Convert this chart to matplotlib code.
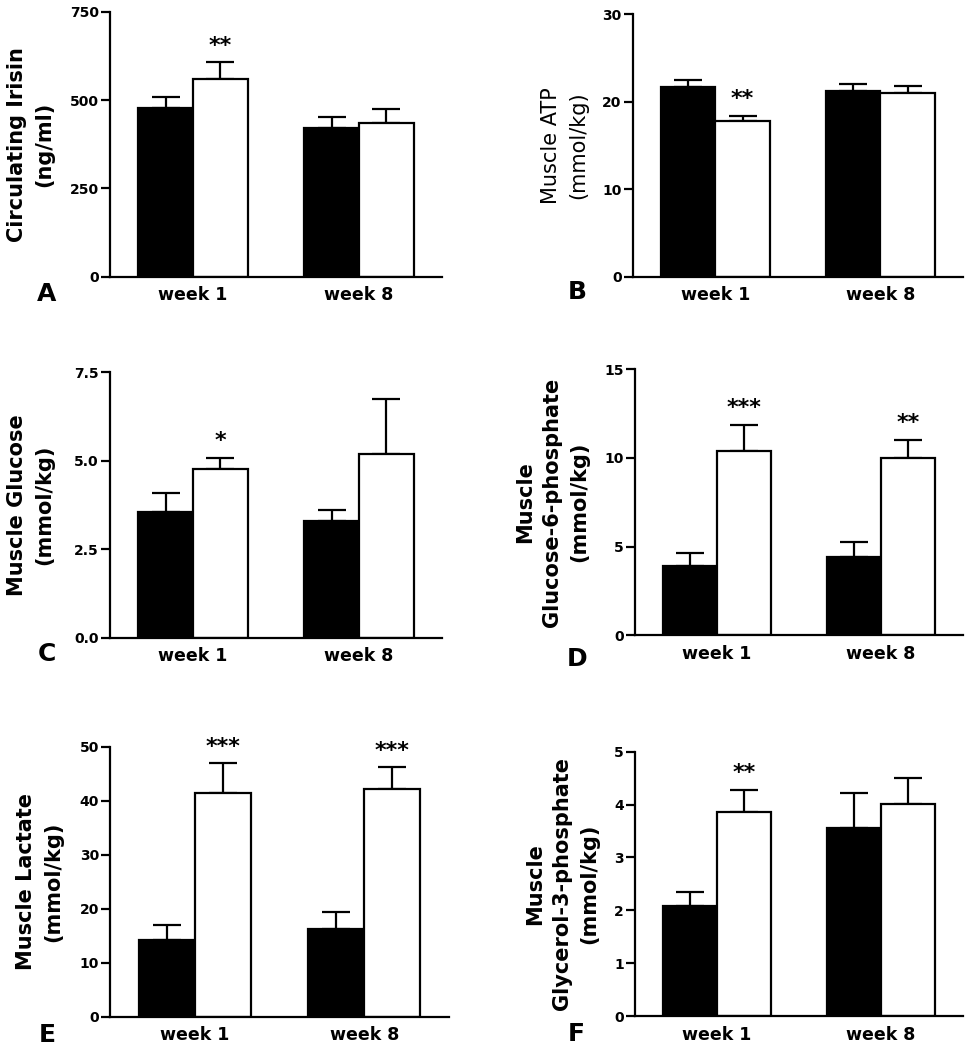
# -*- coding: utf-8 -*-
"""
Six bar panels (A-F): control (black) vs treated (white) at week 1 and
week 8, mean with upper error bar and significance stars.
"""
import numpy as np
import matplotlib
matplotlib.use("Agg")
import matplotlib.pyplot as plt

# Data
groups = ["week 1", "week 8"]

irisin_ctrl = [477, 422]
irisin_ctrl_err = [31, 30]
irisin_trt = [560, 436]
irisin_trt_err = [47, 38]
irisin_stars = ["**", ""]

atp_ctrl = [21.7, 21.2]
atp_ctrl_err = [0.8, 0.8]
atp_trt = [17.8, 21.0]
atp_trt_err = [0.6, 0.8]
atp_stars = ["**", ""]

glucose_ctrl = [3.56, 3.31]
glucose_ctrl_err = [0.52, 0.30]
glucose_trt = [4.76, 5.19]
glucose_trt_err = [0.33, 1.55]
glucose_stars = ["*", ""]

g6p_ctrl = [3.93, 4.42]
g6p_ctrl_err = [0.73, 0.82]
g6p_trt = [10.39, 10.0]
g6p_trt_err = [1.49, 1.03]
g6p_stars = ["***", "**"]

lactate_ctrl = [14.2, 16.3]
lactate_ctrl_err = [2.7, 3.0]
lactate_trt = [41.5, 42.2]
lactate_trt_err = [5.4, 4.0]
lactate_stars = ["***", "***"]

g3p_ctrl = [2.09, 3.56]
g3p_ctrl_err = [0.25, 0.65]
g3p_trt = [3.85, 4.01]
g3p_trt_err = [0.43, 0.50]
g3p_stars = ["**", ""]

LW = 1.6
W = 972
H = 1050


def draw_panel(ax, ctrl, ctrl_err, trt, trt_err, stars, ticks, ticklabels,
               ylabel, label_x, letter, letter_xy, label_weight="bold"):
    """Draw one bar panel in the GraphPad style of the reference."""
    x = np.arange(len(groups))
    width = 0.33
    xc = x - width / 2
    xt = x + width / 2

    ax.bar(xc, ctrl, width, color="black", edgecolor="black", linewidth=LW,
           zorder=2)
    ax.bar(xt, trt, width, color="white", edgecolor="black", linewidth=LW,
           zorder=2)
    ax.errorbar(xc, ctrl, yerr=[np.zeros(len(ctrl)), ctrl_err], fmt="none",
                ecolor="black", elinewidth=LW, capsize=10, capthick=LW,
                zorder=1)
    ax.errorbar(xt, trt, yerr=[np.zeros(len(trt)), trt_err], fmt="none",
                ecolor="black", elinewidth=LW, capsize=10, capthick=LW,
                zorder=1)

    # significance stars above the treated bars
    for xi, m, e, s in zip(xt, trt, trt_err, stars):
        if s:
            ax.annotate(s, (xi, m + e), xytext=(0, 12),
                        textcoords="offset points", ha="center",
                        va="center", fontsize=16, fontweight="bold")

    ax.set_xlim(-0.5, 1.5)
    ax.set_ylim(ticks[0], ticks[-1])
    ax.set_yticks(ticks)
    ax.set_yticklabels(ticklabels, fontsize=10, fontweight="bold")
    ax.set_xticks(x)
    ax.set_xticklabels(groups, fontsize=12.5, fontweight="bold")
    ax.tick_params(axis="x", length=0, pad=7)
    ax.tick_params(axis="y", length=6.5, width=LW, pad=1.5)

    for side in ["top", "right"]:
        ax.spines[side].set_visible(False)
    for side in ["left", "bottom"]:
        ax.spines[side].set_linewidth(LW)
    ax.spines["bottom"].set_zorder(3)

    ax.text(label_x, 0.5, ylabel, transform=ax.transAxes, rotation=90,
            ha="center", va="center", multialignment="center",
            fontsize=15, fontweight=label_weight, linespacing=1.45)

    fig.text(letter_xy[0] / W, 1 - letter_xy[1] / H, letter, ha="center",
             va="center", fontsize=18, fontweight="bold")


fig = plt.figure(figsize=(9.72, 10.5), dpi=100)

# axes boxes in pixels: left, right, top, bottom
boxes = {
    "A": (110, 442, 11.7, 276.7),
    "B": (632.7, 963, 14, 276.7),
    "C": (110, 442, 372.3, 637.7),
    "D": (635, 963, 369.3, 635.3),
    "E": (110, 449, 746.7, 1016.7),
    "F": (635, 963, 751.7, 1016),
}


def make_axes(key):
    l, r, t, b = boxes[key]
    return fig.add_axes([l / W, 1 - b / H, (r - l) / W, (b - t) / H])


def label_pos(key, px):
    l, r, t, b = boxes[key]
    return (px - l) / (r - l)


draw_panel(make_axes("A"), irisin_ctrl, irisin_ctrl_err, irisin_trt,
           irisin_trt_err, irisin_stars, [0, 250, 500, 750],
           ["0", "250", "500", "750"], "Circulating Irisin\n(ng/ml)",
           label_pos("A", 31), "A", (47, 294))

draw_panel(make_axes("B"), atp_ctrl, atp_ctrl_err, atp_trt, atp_trt_err,
           atp_stars, [0, 10, 20, 30], ["0", "10", "20", "30"],
           "Muscle ATP\n(mmol/kg)", label_pos("B", 565), "B", (577, 292),
           label_weight="normal")

draw_panel(make_axes("C"), glucose_ctrl, glucose_ctrl_err, glucose_trt,
           glucose_trt_err, glucose_stars, [0, 2.5, 5.0, 7.5],
           ["0.0", "2.5", "5.0", "7.5"], "Muscle Glucose\n(mmol/kg)",
           label_pos("C", 31), "C", (47, 654))

draw_panel(make_axes("D"), g6p_ctrl, g6p_ctrl_err, g6p_trt, g6p_trt_err,
           g6p_stars, [0, 5, 10, 15], ["0", "5", "10", "15"],
           "Muscle\nGlucose-6-phosphate\n(mmol/kg)", label_pos("D", 552),
           "D", (577, 659))

draw_panel(make_axes("E"), lactate_ctrl, lactate_ctrl_err, lactate_trt,
           lactate_trt_err, lactate_stars, [0, 10, 20, 30, 40, 50],
           ["0", "10", "20", "30", "40", "50"], "Muscle Lactate\n(mmol/kg)",
           label_pos("E", 40), "E", (47, 1035))

draw_panel(make_axes("F"), g3p_ctrl, g3p_ctrl_err, g3p_trt, g3p_trt_err,
           g3p_stars, [0, 1, 2, 3, 4, 5], ["0", "1", "2", "3", "4", "5"],
           "Muscle\nGlycerol-3-phosphate\n(mmol/kg)", label_pos("F", 562),
           "F", (576, 1034))

fig.savefig("out.png", dpi=100)
